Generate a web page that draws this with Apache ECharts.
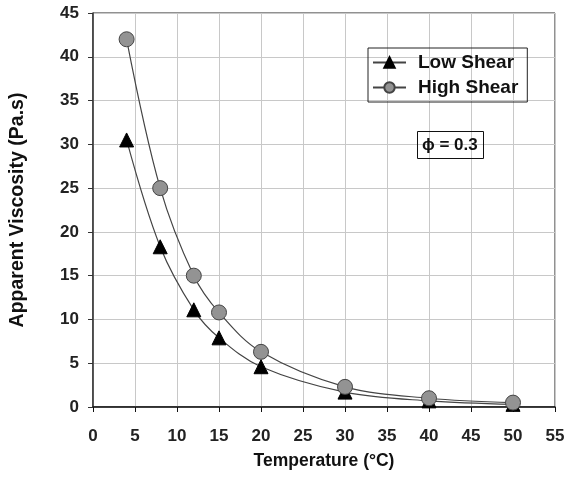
<!DOCTYPE html>
<html><head><meta charset="utf-8">
<script src="https://cdn.jsdelivr.net/npm/echarts@6/dist/echarts.min.js"></script>
<style>html,body{margin:0;padding:0;background:#fff}#c{width:568px;height:490px}</style>
</head><body><div id="c"></div>
<script>
const temperature = [4, 8, 12, 15, 20, 30, 40, 50];
const lowShear = [30.5, 18.3, 11.1, 7.9, 4.6, 1.7, 0.7, 0.3];
const highShear = [42, 25, 15, 10.8, 6.3, 2.3, 1.0, 0.5];
const seriesNames = ['Low Shear', 'High Shear'];
const xTitle = 'Temperature (°C)';
const yTitle = 'Apparent Viscosity (Pa.s)';
const note = 'ϕ = 0.3';

const font = 'Liberation Sans, Arial, sans-serif';
const chart = echarts.init(document.getElementById('c'));
const pair = (xs, ys) => xs.map((x, i) => [x, ys[i]]);
chart.setOption({
  animation: false,
  backgroundColor: '#fff',
  grid: { left: 93, right: 13, top: 13, bottom: 83, show: true, borderColor: '#222', borderWidth: 1 },
  title: {
    text: note, left: 417, top: 131,
    borderColor: '#111', borderWidth: 1, padding: [6, 6, 5, 5],
    textStyle: { fontFamily: font, fontSize: 17, fontWeight: 'bold', color: '#111' }
  },
  legend: {
    left: 368, top: 48, orient: 'vertical', itemGap: 6,
    borderColor: '#222', borderWidth: 1, padding: [5, 9, 5, 4],
    itemWidth: 33, itemHeight: 13,
    textStyle: { fontFamily: font, fontSize: 19, fontWeight: 'bold', color: '#111', padding: [0, 0, 0, 7] },
    data: seriesNames
  },
  xAxis: {
    type: 'value', min: 0, max: 55, interval: 5,
    name: xTitle, nameLocation: 'middle', nameGap: 45,
    nameTextStyle: { fontFamily: font, fontSize: 17.5, fontWeight: 'bold', color: '#111' },
    axisLine: { onZero: false, lineStyle: { color: '#111', width: 1.5 } },
    axisTick: { show: true, length: 5, lineStyle: { color: '#111' } },
    axisLabel: { fontFamily: font, fontSize: 17, fontWeight: 'bold', color: '#222', margin: 21 },
    splitLine: { show: true, lineStyle: { color: '#c8c8c8', width: 1 } }
  },
  yAxis: {
    type: 'value', min: 0, max: 45, interval: 5,
    name: yTitle, nameLocation: 'middle', nameGap: 65, nameRotate: 90,
    nameTextStyle: { fontFamily: font, fontSize: 19.5, fontWeight: 'bold', color: '#111' },
    axisLine: { show: true, lineStyle: { color: '#333', width: 1.5 } },
    axisTick: { show: true, length: 5, lineStyle: { color: '#333' } },
    axisLabel: { fontFamily: font, fontSize: 17, fontWeight: 'bold', color: '#222', margin: 14 },
    splitLine: { show: true, lineStyle: { color: '#c8c8c8', width: 1 } }
  },
  series: [
    {
      name: seriesNames[0], type: 'line', data: pair(temperature, lowShear),
      smooth: 0.35, symbol: 'triangle', symbolSize: 14, showAllSymbol: true,
      lineStyle: { color: '#444', width: 1.2 },
      itemStyle: { color: '#000', borderColor: '#000', borderWidth: 1 }
    },
    {
      name: seriesNames[1], type: 'line', data: pair(temperature, highShear),
      smooth: 0.35, symbol: 'circle', symbolSize: 15, showAllSymbol: true,
      lineStyle: { color: '#444', width: 1.2 },
      itemStyle: { color: '#939393', borderColor: '#444', borderWidth: 1 }
    }
  ]
});
</script></body></html>
